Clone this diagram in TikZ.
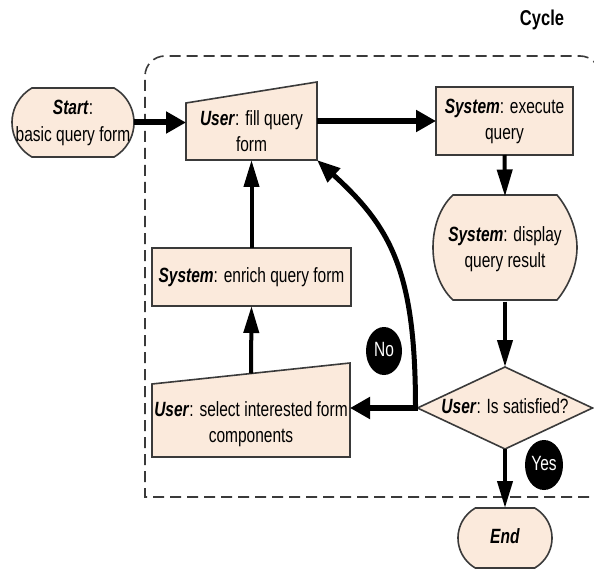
\documentclass[tikz,border=0pt]{standalone}
\usepackage{fontspec}
\setmainfont{Liberation Sans}
\usepackage{graphicx}
\usetikzlibrary{arrows.meta,shapes.geometric,shapes.misc}
\definecolor{boxfill}{RGB}{251,234,220}
\definecolor{boxline}{RGB}{58,58,58}
% tall, centred multi-line label text
\newcommand{\tall}[1]{\scalebox{1}[1.33]{\begin{tabular}{@{}c@{}}#1\end{tabular}}}
\newcommand{\who}[1]{\textbf{\textit{#1}}}

\begin{document}
\begin{tikzpicture}[x=1pt,y=-1pt,
  every node/.style={font=\fontsize{15.5}{20}\selectfont, inner sep=0pt, outer sep=0pt},
  box/.style={draw=boxline, fill=boxfill, line width=1.6pt},
  frame/.style={draw=boxline, line width=1.6pt, dash pattern=on 11pt off 6pt},
  badge/.style={ellipse, fill=black, text=white},
  harrow/.style={line width=6pt, -{Triangle[length=20pt,width=21pt]}},
  varrow/.style={line width=4pt, -{Triangle[length=27pt,width=15pt]}},
  carrow/.style={line width=5pt, -{Triangle[length=23pt,width=18pt]}},
]
% canvas
\fill[white] (0,0) rectangle (594,572);
\useasboundingbox (0,0) rectangle (594,572);
\clip (0,0) rectangle (594,572);

% cycle boundary: square lower-left corner, rounded upper corners
\draw[frame] (640,497) -- (145,497) [rounded corners=20pt] -- (145,56) -- (600,56) -- (600,80);
\node[font=\fontsize{16.5}{20}\selectfont\bfseries] (cycle) at (542,20) {\scalebox{1}[1.3]{Cycle}};

% outlines of the manual-input, display and decision shapes
\draw[box] (186,103) -- (317,82) -- (317,160) -- (186,160) -- cycle;
\draw[box] (152,384) -- (350,363) -- (350,457) -- (152,457) -- cycle;
\draw[box] (453,195) -- (557,195)
  .. controls (568,208) and (577,228) .. (577,247.5)
  .. controls (577,267) and (568,287) .. (557,300) -- (453,300)
  .. controls (440,288) and (433,268) .. (433,247.5)
  .. controls (433,227) and (440,207) .. (453,195) -- cycle;
\draw[box] (505,367) -- (592.5,408) -- (505,449) -- (417.5,408) -- cycle;

% nodes
\node[rounded rectangle, rounded rectangle arc length=120, box,
      minimum width=122pt, minimum height=69pt] (start) at (73,122.5)
  {\makebox[0pt]{\tall{\who{Start}:\\basic query form}}};

\node[minimum width=131pt, minimum height=78pt] (fill) at (251.5,121) {};
\node (filltext) at (251.5,133) {\tall{\who{User}: fill query\\form}};

\node[box, minimum width=137pt, minimum height=68pt] (execute) at (504.5,121)
  {\tall{\who{System}: execute\\query}};

\node[minimum width=144pt, minimum height=105pt] (display) at (505,249)
  {\tall{\who{System}: display\\query result}};

\node[minimum width=175pt, minimum height=82pt] (decision) at (505,408)
  {\tall{\who{User}: Is satisfied?}};

\node[rounded rectangle, rounded rectangle arc length=120, box,
      minimum width=94pt, minimum height=60pt] (end) at (505,538)
  {\makebox[0pt]{\tall{\who{End}}}};

\node[box, minimum width=199pt, minimum height=58pt] (enrich) at (251.5,277)
  {\tall{\who{System}: enrich query form}};

\node[minimum width=198pt, minimum height=94pt] (select) at (251,410) {};
\node (selecttext) at (251,424) {\tall{\who{User}: select interested form\\components}};

\node[badge, minimum width=38pt, minimum height=50pt] (yes) at (544,465) {\tall{Yes}};
\node[badge, minimum width=36pt, minimum height=48pt] (no) at (384,351) {\tall{No}};

% connectors
\draw[harrow] (start.east) -- (start.east -| fill.west);
\draw[harrow] (fill.east) -- (execute.west);
\draw[varrow] (execute.south) -- (display.north);
\draw[varrow] (display.south) -- (decision.north);
\draw[varrow] (decision.south) -- (end.north);
\draw[harrow] (decision.west) -- (decision.west -| select.east);
\draw[varrow] ([yshift=-10.5pt]select.north) -- (enrich.south);
\draw[varrow] (enrich.north) -- (fill.south);
\draw[carrow] ([xshift=-2pt]decision.west) .. controls +(0,-135) and (392,228) .. (fill.south east);
\end{tikzpicture}
\end{document}
